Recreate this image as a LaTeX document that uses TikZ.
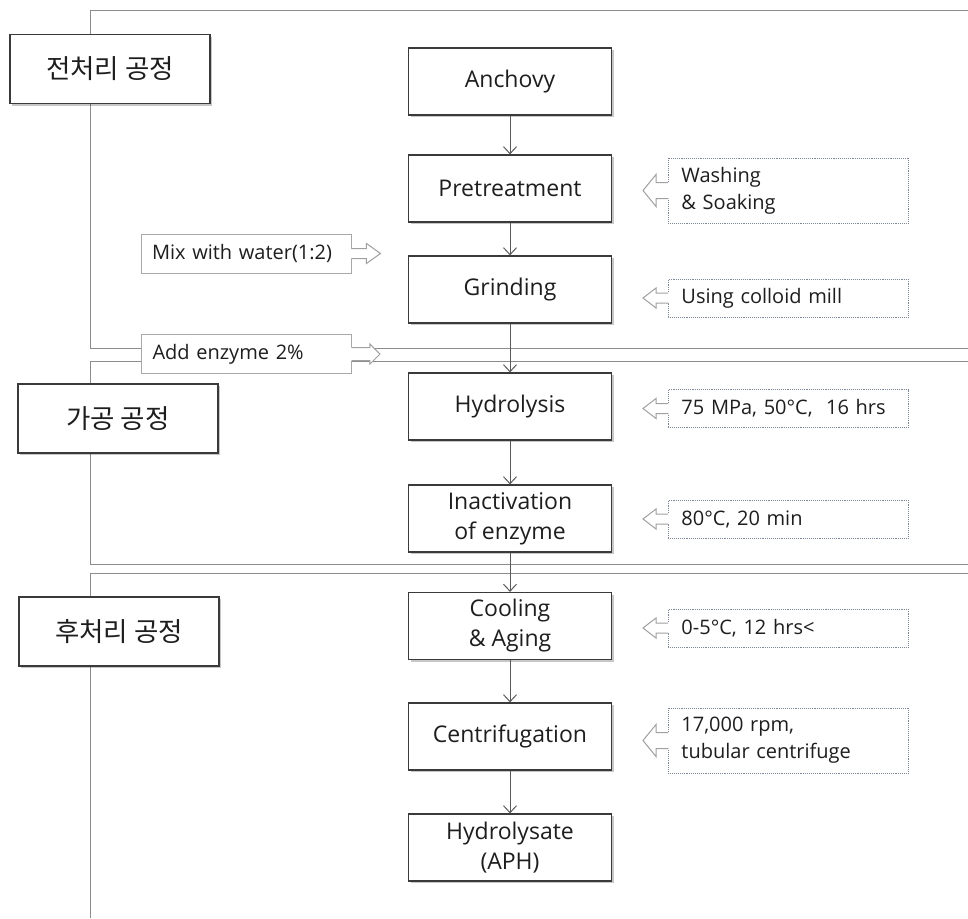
\documentclass[tikz,border=0pt]{standalone}
\usepackage{fontspec}
\setmainfont{Open Sans}
\newfontfamily\kr{Noto Sans CJK KR}
\usetikzlibrary{shadows,arrows.meta,calc}

\definecolor{ink}{HTML}{1E1E1E}
\definecolor{boxline}{HTML}{3A3A3A}
\definecolor{frameline}{HTML}{8C8C8C}
\definecolor{noteline}{HTML}{7C8799}
\definecolor{hollowline}{HTML}{A0A0A0}
\definecolor{inline}{HTML}{A8A8A8}

\tikzset{
  frame/.style={draw=frameline, line width=1pt},
  boxshadow/.style={drop shadow={shadow xshift=2pt, shadow yshift=-2pt, opacity=0.22, fill=black}},
  stagebox/.style={draw=boxline, fill=white, line width=1.2pt, minimum width=200pt,
    minimum height=69pt, text=ink, font=\kr\fontsize{26.5}{30}\selectfont, boxshadow},
  procbox/.style={draw=boxline, fill=white, line width=1.2pt, minimum width=203pt,
    minimum height=67pt, align=center, text=ink, font=\fontsize{23}{30}\selectfont, boxshadow},
  flow/.style={draw=black!65, line width=1pt, -{Straight Barb[length=7pt,width=13pt]}},
  notebox/.style={draw=noteline, densely dotted, line width=0.9pt, fill=white,
    text width=214pt, inner xsep=13pt, align=left, text=ink,
    font=\fontsize{20}{27}\selectfont, anchor=west},
  inbox/.style={draw=inline, line width=0.9pt, fill=white, text width=188pt,
    inner xsep=11pt, minimum height=39pt, align=left, text=ink,
    font=\fontsize{20}{24}\selectfont},
  hollow/.style={draw=hollowline, line width=1pt, line join=miter},
}

% hollow arrow on the left side of a note, pointing left (node, shaft half, head half)
\newcommand\callleft[3]{%
  \fill[white] let \p1=(#1.west) in
    (\x1+0.8pt,\y1+#2pt) -- (\x1-12pt,\y1+#2pt) -- (\x1-12pt,\y1+#3pt) -- (\x1-25pt,\y1)
    -- (\x1-12pt,\y1-#3pt) -- (\x1-12pt,\y1-#2pt) -- (\x1+0.8pt,\y1-#2pt) -- cycle;
  \draw[hollow] let \p1=(#1.west) in
    (\x1,\y1+#2pt) -- (\x1-12pt,\y1+#2pt) -- (\x1-12pt,\y1+#3pt) -- (\x1-25pt,\y1)
    -- (\x1-12pt,\y1-#3pt) -- (\x1-12pt,\y1-#2pt) -- (\x1,\y1-#2pt);
}
% hollow arrow on the right side of an input box, pointing right
% (node, shaft half, head half, shaft length, head length)
\newcommand\callright[5]{%
  \fill[white] let \p1=(#1.east) in
    (\x1-0.8pt,\y1+#2pt) -- (\x1+#4pt,\y1+#2pt) -- (\x1+#4pt,\y1+#3pt) -- (\x1+#4pt+#5pt,\y1)
    -- (\x1+#4pt,\y1-#3pt) -- (\x1+#4pt,\y1-#2pt) -- (\x1-0.8pt,\y1-#2pt) -- cycle;
  \draw[hollow] let \p1=(#1.east) in
    (\x1,\y1+#2pt) -- (\x1+#4pt,\y1+#2pt) -- (\x1+#4pt,\y1+#3pt) -- (\x1+#4pt+#5pt,\y1)
    -- (\x1+#4pt,\y1-#3pt) -- (\x1+#4pt,\y1-#2pt) -- (\x1,\y1-#2pt);
}

\begin{document}
\begin{tikzpicture}[x=1pt,y=-1pt]
\useasboundingbox (0,0) rectangle (968,918);

% stage frames
\draw[frame] (968,10) -- (90,10) -- (90,348) -- (968,348);
\draw[frame] (968,361) -- (90,361) -- (90,564) -- (968,564);
\draw[frame] (968,573) -- (90,573) -- (90,918);

% stage labels
\node[stagebox] (s1) at (110,69) {전처리 공정};
\node[stagebox] (s2) at (118,418.5) {가공 공정};
\node[stagebox] (s3) at (119,631.5) {후처리 공정};

% process steps
\node[procbox] (anchovy) at (510,81.5) {Anchovy};
\node[procbox] (pre)     at (510,188.5) {Pretreatment};
\node[procbox] (grind)   at (510,289.5) {Grinding};
\node[procbox] (hydro)   at (510,406.5) {Hydrolysis};
\node[procbox] (inact)   at (510,518.5) {Inactivation\\of enzyme};
\node[procbox] (cool)    at (510,626)   {Cooling\\\& Aging};
\node[procbox] (centri)  at (510,736.5) {Centrifugation};
\node[procbox] (aph)     at (510,847.5) {Hydrolysate\\(APH)};

\draw[flow] (anchovy) -- (pre);
\draw[flow] (pre) -- (grind);
\draw[flow] (grind) -- (hydro);
\draw[flow] (hydro) -- (inact);
\draw[flow] (inact) -- (cool);
\draw[flow] (cool) -- (centri);
\draw[flow] (centri) -- (aph);

% conditions
\node[notebox, minimum height=65pt] (n1) at (668,190.5) {Washing\\\& Soaking};
\node[notebox, minimum height=38pt] (n2) at (668,298)   {Using colloid mill};
\node[notebox, minimum height=38pt] (n3) at (668,408.5) {75 MPa, 50°C,\ \ 16 hrs};
\node[notebox, minimum height=38pt] (n4) at (668,519)   {80°C, 20 min};
\node[notebox, minimum height=38pt] (n5) at (668,628)   {0-5°C, 12 hrs<};
\node[notebox, minimum height=65pt] (n6) at (668,740.5) {17,000 rpm,\\tubular centrifuge};

\callleft{n1}{8}{16}
\callleft{n2}{5}{10}
\callleft{n3}{5}{10}
\callleft{n4}{5}{10}
\callleft{n5}{5}{10}
\callleft{n6}{8}{16}

% inputs
\node[inbox] (mix) at (246,253.5) {Mix with water(1:2)};
\node[inbox] (enz) at (246.5,354) {Add enzyme 2\%};
\callright{mix}{5}{10}{15}{14}
\callright{enz}{6.5}{10}{18}{10}
\end{tikzpicture}
\end{document}
